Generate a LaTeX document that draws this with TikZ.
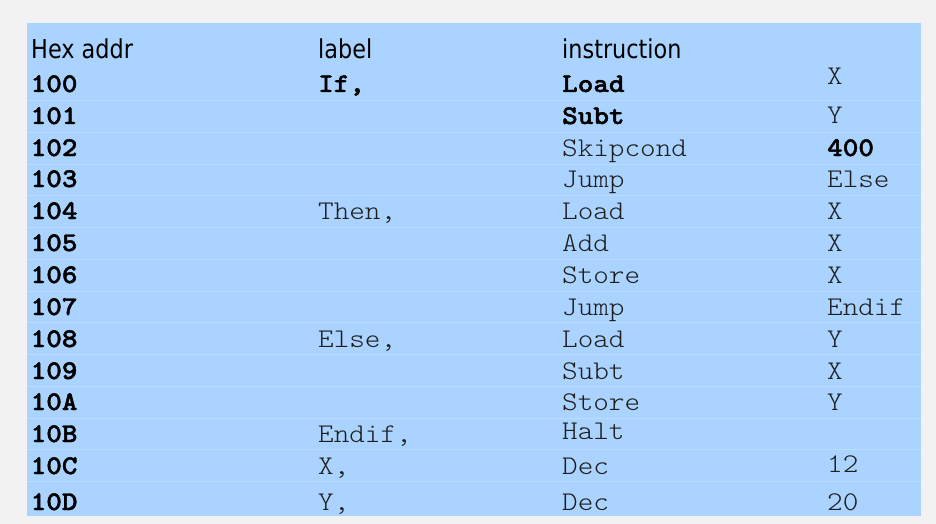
\documentclass[tikz,border=0pt]{standalone}
\usepackage{fontspec}
\setmonofont{Liberation Mono}
\newfontfamily\lmthin[FakeStretch=1.1,BoldFeatures={FakeBold=1.6}]{Latin Modern Mono Light}
\newfontfamily\hdrfont[FakeStretch=0.86]{DejaVu Sans}
\definecolor{bg}{RGB}{242,242,242}
\definecolor{cell}{RGB}{170,212,255}
\definecolor{sepline}{RGB}{186,221,255}
\definecolor{txt}{RGB}{30,30,30}
\begin{document}
\begin{tikzpicture}[x=1pt,y=-1pt,
  hdr/.style={anchor=base west,inner sep=0,font=\hdrfont\fontsize{26}{30}\selectfont,text=black},
  mono/.style={anchor=base west,inner sep=0,font=\lmthin\fontsize{27}{31}\selectfont,text=txt},
  monob/.style={anchor=base west,inner sep=0,font=\lmthin\bfseries\fontsize{27}{31}\selectfont,text=black},
  rowsep/.style={draw=sepline,line width=0.8pt}]
\fill[bg] (0,0) rectangle (936,524);
\useasboundingbox (0,0) rectangle (936,524);
\fill[cell] (27,23) rectangle (921,516);
\foreach \yy in {100,132,164,195,227,259,291,322,354,386,418,449,481}
  \draw[rowsep] (27,\yy) -- (921,\yy);
% header
\node[hdr] (h1) at (31,59) {Hex addr};
\node[hdr] (h2) at (318,59) {label};
\node[hdr] (h3) at (562,59) {instruction};
% addresses
\foreach \a/\yy [count=\i] in {100/92,101/124,102/156,103/187,104/219,105/251,106/283,107/315,108/347,109/379,10A/410,10B/442,10C/474,10D/510}
  \node[monob] (a\i) at (30.5,\yy) {\a};
% labels
\node[monob] (l1) at (318,92) {If,};
\node[mono] (l5) at (318,219) {Then,};
\node[mono] (l9) at (318,347) {Else,};
\node[mono] (l12) at (318,442) {Endif,};
\node[mono] (l13) at (318,474) {X,};
\node[mono] (l14) at (318,510) {Y,};
% instructions
\node[monob] (i1) at (562,92) {Load};
\node[monob] (i2) at (562,124) {Subt};
\node[mono] (i3) at (562,156) {Skipcond};
\node[mono] (i4) at (562,187) {Jump};
\node[mono] (i5) at (562,219) {Load};
\node[mono] (i6) at (562,251) {Add};
\node[mono] (i7) at (562,283) {Store};
\node[mono] (i8) at (562,315) {Jump};
\node[mono] (i9) at (562,347) {Load};
\node[mono] (i10) at (562,379) {Subt};
\node[mono] (i11) at (562,410) {Store};
\node[mono] (i12) at (562,439) {Halt};
\node[mono] (i13) at (562,474) {Dec};
\node[mono] (i14) at (562,510) {Dec};
% operands
\node[mono] (o1) at (827,85) {X};
\node[mono] (o2) at (827,124) {Y};
\node[monob] (o3) at (827,156) {400};
\node[mono] (o4) at (827,187) {Else};
\node[mono] (o5) at (827,219) {X};
\node[mono] (o6) at (827,251) {X};
\node[mono] (o7) at (827,283) {X};
\node[mono] (o8) at (827,315) {Endif};
\node[mono] (o9) at (827,347) {Y};
\node[mono] (o10) at (827,379) {X};
\node[mono] (o11) at (827,410) {Y};
\node[mono] (o13) at (827,472) {12};
\node[mono] (o14) at (827,510) {20};
\end{tikzpicture}
\end{document}
